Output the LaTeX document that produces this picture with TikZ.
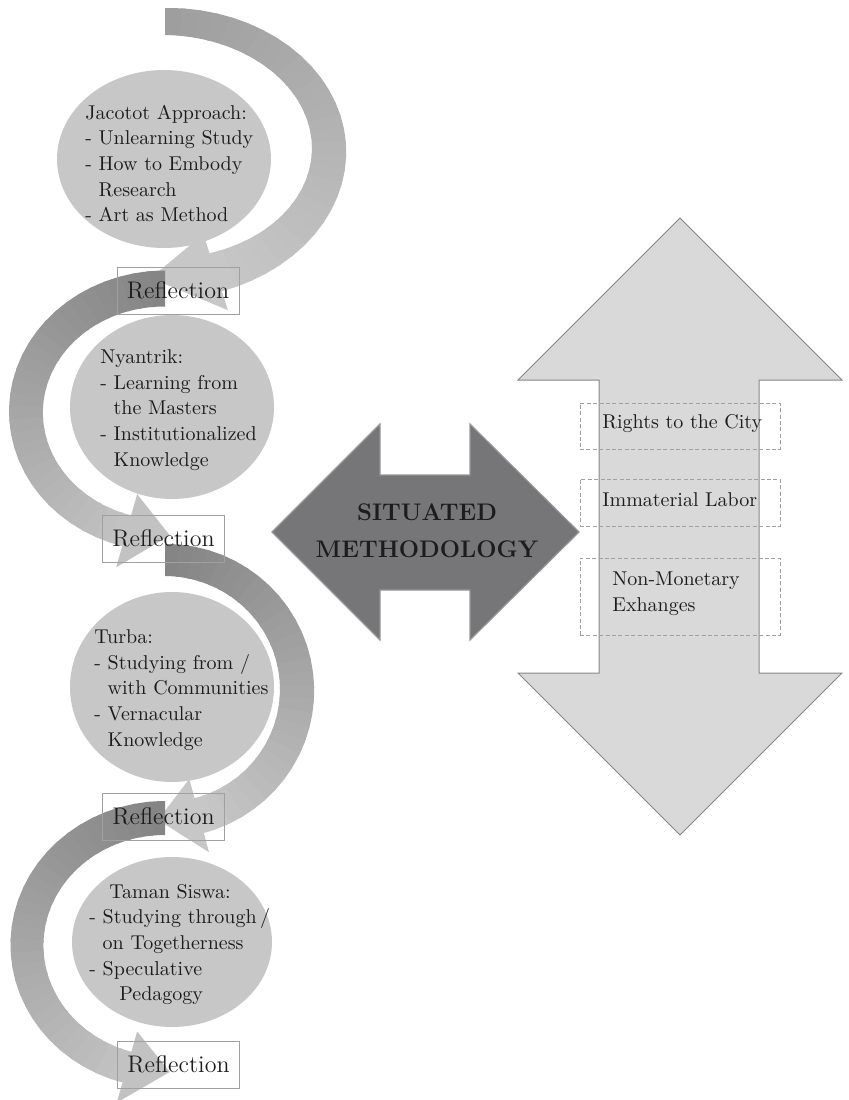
\documentclass[tikz,border=0pt]{standalone}
\usetikzlibrary{shapes.geometric}
\definecolor{circfill}{RGB}{199,199,199}
\definecolor{darkarrow}{RGB}{118,118,120}
\definecolor{darkedge}{RGB}{150,150,152}
\definecolor{lightarrow}{RGB}{217,217,217}
\definecolor{lightedge}{RGB}{135,135,135}
\definecolor{boxedge}{RGB}{160,160,160}
\definecolor{txt}{RGB}{28,28,28}

\pgfkeys{/arc/.is family}
\pgfkeys{/arc/cx/.store in=\Acx, /arc/cy/.store in=\Acy,
  /arc/a/.store in=\Aa, /arc/b/.store in=\Ab,
  /arc/t0/.store in=\Ata, /arc/t1/.store in=\Atb, /arc/t2/.store in=\Atc,
  /arc/w0/.store in=\Awa, /arc/w1/.store in=\Awb, /arc/H/.store in=\AH,
  /arc/c0/.store in=\Aca, /arc/c1/.store in=\Acb}

% curved band arrow with a grey gradient from tail to head
\newcommand\ArcArrow[1]{%
  \pgfkeys{/arc/.cd,#1}%
  \foreach \i in {0,...,29}{%
    \pgfmathsetmacro\sa{\Ata+(\Atb-(\Ata))*\i/30}%
    \pgfmathsetmacro\sb{\Ata+(\Atb-(\Ata))*(\i+1.25)/30}%
    \pgfmathsetmacro\pc{\Aca+(\Acb-\Aca)*\i/29}%
    \fill[black!\pc]
      plot[domain=\sa:\sb,samples=5,variable=\t]
        ({\Acx+(\Aa+0.5*(\Awa+(\Awb-\Awa)*(\t-(\Ata))/(\Atb-(\Ata))))*cos(\t)},
         {\Acy+(\Ab+0.5*(\Awa+(\Awb-\Awa)*(\t-(\Ata))/(\Atb-(\Ata))))*sin(\t)})
      -- plot[domain=\sb:\sa,samples=5,variable=\t]
        ({\Acx+(\Aa-0.5*(\Awa+(\Awb-\Awa)*(\t-(\Ata))/(\Atb-(\Ata))))*cos(\t)},
         {\Acy+(\Ab-0.5*(\Awa+(\Awb-\Awa)*(\t-(\Ata))/(\Atb-(\Ata))))*sin(\t)})
      -- cycle;
  }%
  \fill[black!\Acb]
    ({\Acx+(\Aa+\AH)*cos(\Atb)},{\Acy+(\Ab+\AH)*sin(\Atb)})
    -- ({\Acx+\Aa*cos(\Atc)},{\Acy+\Ab*sin(\Atc)})
    -- ({\Acx+(\Aa-\AH)*cos(\Atb)},{\Acy+(\Ab-\AH)*sin(\Atb)}) -- cycle;
}

\newcommand\ind{\phantom{-}\ }

\tikzset{
  circ/.style={ellipse, fill=circfill, draw=none, inner sep=0pt},
  body/.style={font=\fontsize{10}{12.85}\selectfont, align=left, inner sep=0pt,
    anchor=west, text=txt},
  refl/.style={draw=boxedge, line width=0.5pt, minimum width=61pt,
    minimum height=23.5pt, inner sep=0pt, font=\fontsize{12}{14}\selectfont, text=txt},
  dbox/.style={draw=boxedge, dash pattern=on 2pt off 1.2pt, line width=0.45pt,
    inner sep=0pt},
  bigtext/.style={font=\fontsize{12}{18.5}\selectfont\bfseries, align=center,
    inner sep=0pt, text=txt},
}

\begin{document}
\begin{tikzpicture}[x=0.5pt, y=-0.5pt]
\useasboundingbox (0,0) rectangle (848,1100);

% curved arrows of the left column
\ArcArrow{cx=165, cy=150, a=164, b=128.5, t0=-90, t1=72, t2=95,
  w0=27, w1=40, H=40, c0=38, c1=22}
\ArcArrow{cx=165, cy=412, a=139, b=123.5, t0=270, t1=106, t2=88,
  w0=36, w1=32, H=38, c0=48, c1=24}
\ArcArrow{cx=165, cy=690, a=132, b=130, t0=-90, t1=75, t2=93,
  w0=32, w1=36, H=38, c0=48, c1=22}
\ArcArrow{cx=165, cy=945, a=138, b=127, t0=270, t1=106, t2=88,
  w0=34, w1=32, H=37, c0=48, c1=24}

% circles
\node[circ, minimum width=107pt, minimum height=89pt] (c1) at (164,159) {};
\node[circ, minimum width=102pt, minimum height=92pt] (c2) at (172,407) {};
\node[circ, minimum width=102pt, minimum height=95pt] (c3) at (172,687) {};
\node[circ, minimum width=100pt, minimum height=85pt] (c4) at (172,942) {};

% circle texts
\node[body] (t1) at (85,163.5) {Jacotot Approach:\\- Unlearning Study\\- How to Embody\\\ind Research\\- Art as Method};
\node[body] (t2) at (100,410) {Nyantrik:\\- Learning from\\\ind the Masters\\- Institutionalized\\\ind Knowledge};
\node[body] (t3) at (94,690) {Turba:\\- Studying from /\\\ind with Communities\\- Vernacular\\\ind Knowledge};
\node[body] (t4) at (89,944.5) {\hspace*{10pt}Taman Siswa:\\- Studying through\,/\\\ind on Togetherness\\- Speculative\\\hspace*{15pt}Pedagogy};

% reflection boxes
\node[refl] (r1) at (178,290.5) {Reflection};
\node[refl] (r2) at (163.5,538.5) {Reflection};
\node[refl] (r3) at (163.5,816.5) {Reflection};
\node[refl] (r4) at (178.5,1064.5) {Reflection};

% vertical double arrow
\fill[lightarrow, draw=lightedge, line width=0.5pt, line join=miter]
  (680,218) -- (842,380) -- (759,380) -- (759,673) -- (842,673) -- (680,835)
  -- (518,673) -- (599,673) -- (599,380) -- (518,380) -- cycle;

% central horizontal double arrow
\fill[darkarrow, draw=darkedge, line width=0.6pt, line join=miter]
  (272,532) -- (380,424) -- (380,475) -- (470,475) -- (470,424) -- (579,532)
  -- (470,640) -- (470,590) -- (380,590) -- (380,640) -- cycle;
\node[bigtext] (sm) at (427,531) {SITUATED\\METHODOLOGY};

% dashed boxes on the vertical arrow
\node[dbox, minimum width=100pt, minimum height=23pt] (b1) at (680,426) {};
\node[dbox, minimum width=100pt, minimum height=23.5pt] (b2) at (680,502.5) {};
\node[dbox, minimum width=100pt, minimum height=38.5pt] (b3) at (680,596.5) {};
\node[body] (l1) at (602,423) {Rights to the City};
\node[body] (l2) at (602,500) {Immaterial Labor};
\node[body] (l3) at (612,593.5) {Non-Monetary\\Exhanges};
\end{tikzpicture}
\end{document}
